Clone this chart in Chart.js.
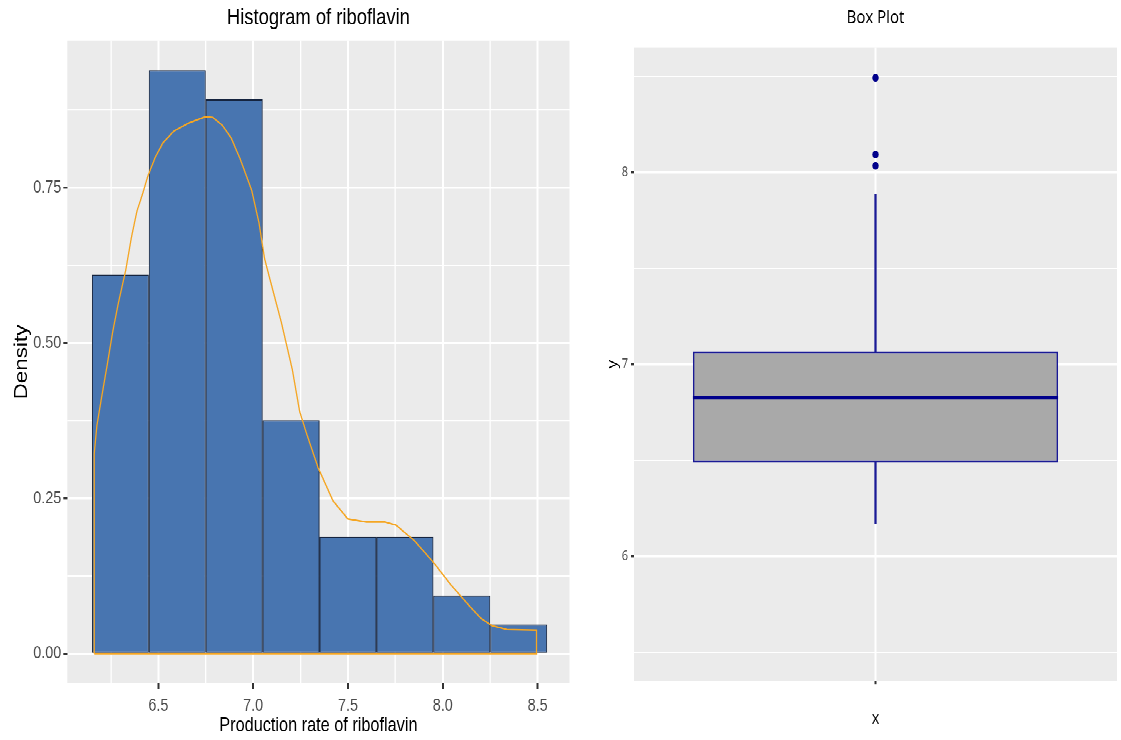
<!DOCTYPE html>
<html>
<head>
<meta charset="utf-8">
<script src="https://cdn.jsdelivr.net/npm/chart.js@4.4.1/dist/chart.umd.min.js"></script>
<style>
  body { margin: 0; background: #fff; width: 1121px; height: 740px; overflow: hidden; }
  /* the source picture is stretched vertically, so the whole drawing is too */
  #wrap { position: absolute; left: 0; top: 0; width: 1121px; height: 607px;
          transform: scale(1, 1.2191); transform-origin: 0 0; }
  #left { position: absolute; left: 0; top: 0; }
  #right { position: absolute; left: 580px; top: 0; }
</style>
</head>
<body>
<div id="wrap">
  <canvas id="left" width="580" height="607"></canvas>
  <canvas id="right" width="541" height="607"></canvas>
</div>
<script>
// Histogram data (bins of width 0.3, density scale)
const binWidth = 0.3;
const binCenters = [6.3, 6.6, 6.9, 7.2, 7.5, 7.8, 8.1, 8.4];
const binDensity = [0.610, 0.939, 0.892, 0.376, 0.188, 0.188, 0.094, 0.047];
const xStep = 0.25;   // grid step on the histogram's x axis (major every 0.5)
const yStep = 0.125;  // grid step on the histogram's y axis (major every 0.25)

// Kernel density outline (closed along the baseline like geom_density)
const densityX = [6.162, 6.162, 6.176, 6.201, 6.231, 6.260, 6.289, 6.328, 6.358, 6.387, 6.416, 6.445,
  6.484, 6.524, 6.582, 6.660, 6.748, 6.787, 6.836, 6.884, 6.933, 6.992, 7.031, 7.060, 7.089, 7.148,
  7.206, 7.245, 7.284, 7.343, 7.421, 7.499, 7.597, 7.694, 7.753, 7.850, 7.948, 8.045, 8.143, 8.201,
  8.260, 8.338, 8.494, 8.494, 6.162];
const densityY = [0, 0.322, 0.367, 0.413, 0.466, 0.519, 0.564, 0.617, 0.670, 0.712, 0.739, 0.769,
  0.799, 0.822, 0.841, 0.854, 0.864, 0.863, 0.851, 0.830, 0.795, 0.746, 0.693, 0.636, 0.602, 0.534,
  0.458, 0.390, 0.352, 0.299, 0.246, 0.217, 0.212, 0.212, 0.207, 0.182, 0.148, 0.110, 0.076, 0.057,
  0.045, 0.039, 0.038, 0, 0];

// Box plot summary
const boxGroup = 'x';
const whiskerLow = 6.17;
const q1 = 6.49;
const median = 6.826;
const q3 = 7.068;
const whiskerHigh = 7.884;
const outliers = [8.494, 8.094, 8.035];

const sans = "'Liberation Sans', Arial, sans-serif";
const plain = "'Open Sans', 'Liberation Sans', sans-serif";
const navy = '#00008B';
const boxLine = '#1A1A96';

const isMultiple = (v, step) => Math.abs(v / step - Math.round(v / step)) < 1e-6;
// major / minor test that survives contexts without a tick
const onStep = (c, step) => c.tick ? isMultiple(c.tick.value, step) : true;

// grey panel behind the plot area
const panelBg = {
  id: 'panelBg',
  beforeDraw(chart) {
    const { ctx, chartArea: a } = chart;
    ctx.save();
    ctx.fillStyle = '#EBEBEB';
    ctx.fillRect(a.left, a.top, a.width, a.height);
    ctx.restore();
  }
};

// ---------- Histogram ----------
new Chart(document.getElementById('left'), {
  type: 'bar',
  data: {
    datasets: [
      {
        type: 'line',
        data: densityX.map((x, i) => ({ x: x, y: densityY[i] })),
        borderColor: '#F5A623',
        borderWidth: 1.3,
        pointRadius: 0,
        tension: 0,
        fill: false,
        order: 0
      },
      {
        type: 'bar',
        data: binCenters.map((x, i) => ({ x: x, y: binDensity[i] })),
        backgroundColor: '#4875B0',
        borderColor: '#15243F',
        borderWidth: 1,
        borderSkipped: false,
        barPercentage: 1,
        // bar width follows the grid step, so widen it to a full bin
        categoryPercentage: binWidth / xStep,
        order: 1
      }
    ]
  },
  options: {
    responsive: false,
    animation: false,
    devicePixelRatio: 2,
    layout: { padding: { right: 10.5, top: 0, bottom: 0, left: 0 } },
    plugins: {
      legend: { display: false },
      tooltip: { enabled: false },
      title: {
        display: true,
        fullSize: false,
        text: 'Histogram of riboflavin',
        color: '#000',
        font: { family: sans, size: 18.4, weight: 'normal' },
        padding: { top: 4.1, bottom: 7.2 }
      }
    },
    scales: {
      x: {
        type: 'linear',
        min: 6.02,
        max: 8.668,
        offset: false,
        afterFit: s => { s.height = 46.5; },
        border: { display: false },
        grid: {
          offset: false,
          color: '#fff',
          lineWidth: c => onStep(c, 0.5) ? 2 : 1.3,
          tickColor: c => onStep(c, 0.5) ? '#333' : 'rgba(0,0,0,0)',
          tickLength: 5
        },
        ticks: {
          stepSize: xStep,
          includeBounds: false,
          autoSkip: false,
          maxRotation: 0,
          padding: 5,
          color: '#4D4D4D',
          font: { family: sans, size: 14.4 },
          callback: v => isMultiple(v, 0.5) ? v.toFixed(1) : ''
        },
        title: {
          display: true,
          text: 'Production rate of riboflavin',
          color: '#000',
          font: { family: sans, size: 16.3 },
          padding: { top: 0, bottom: 1.7 }
        }
      },
      y: {
        min: -0.0476,
        max: 0.9865,
        afterFit: s => { s.width = 67.3; },
        border: { display: false },
        grid: {
          color: '#fff',
          lineWidth: c => onStep(c, 0.25) ? 1.7 : 1.1,
          tickColor: c => onStep(c, 0.25) ? '#333' : 'rgba(0,0,0,0)',
          tickLength: 4
        },
        ticks: {
          stepSize: yStep,
          includeBounds: false,
          autoSkip: false,
          padding: 2,
          color: '#4D4D4D',
          font: { family: sans, size: 14.4 },
          callback: v => isMultiple(v, 0.25) ? v.toFixed(2) : ''
        },
        title: {
          display: true,
          text: 'Density',
          color: '#000',
          font: { family: sans, size: 18.4 },
          padding: { top: 11, bottom: 0 }
        }
      }
    }
  },
  plugins: [panelBg]
});

// ---------- Box plot ----------
const boxWidthFrac = 0.756;

new Chart(document.getElementById('right'), {
  type: 'bar',
  data: {
    labels: [boxGroup],
    datasets: [
      {
        type: 'line',
        data: [{ x: boxGroup, y: median }],
        showLine: false,
        pointStyle: 'line',
        pointRadius: c => c.chart.scales.x ? c.chart.scales.x.width * boxWidthFrac / 2 : 180,
        pointBorderWidth: 2.6,
        pointBorderColor: navy,
        order: 0
      },
      {
        type: 'line',
        data: outliers.map(v => ({ x: boxGroup, y: v })),
        showLine: false,
        pointRadius: 3.2,
        pointBackgroundColor: navy,
        pointBorderColor: navy,
        pointBorderWidth: 0,
        order: 0
      },
      {
        data: [[q1, q3]],
        backgroundColor: '#A9A9A9',
        borderColor: boxLine,
        borderWidth: 1.5,
        borderSkipped: false,
        grouped: false,
        barPercentage: 1,
        categoryPercentage: boxWidthFrac,
        order: 1
      },
      {
        data: [[q3, whiskerHigh]],
        backgroundColor: boxLine,
        barThickness: 1.6,
        grouped: false,
        order: 2
      },
      {
        data: [[whiskerLow, q1]],
        backgroundColor: boxLine,
        barThickness: 1.6,
        grouped: false,
        order: 2
      }
    ]
  },
  options: {
    responsive: false,
    animation: false,
    devicePixelRatio: 2,
    layout: { padding: { right: 3, top: 0, bottom: 0, left: 0 } },
    plugins: {
      legend: { display: false },
      tooltip: { enabled: false },
      title: {
        display: true,
        fullSize: false,
        text: 'Box Plot',
        color: '#000',
        font: { family: plain, size: 15, weight: 'normal' },
        padding: { top: 5.8, bottom: 15 }
      }
    },
    scales: {
      x: {
        type: 'category',
        offset: true,
        afterFit: s => { s.height = 48.4; },
        border: { display: false },
        grid: {
          offset: false,
          color: '#fff',
          lineWidth: 2,
          tickColor: '#333',
          tickLength: 2.5
        },
        ticks: { callback: () => '' },
        title: {
          display: true,
          text: 'x',
          color: '#000',
          font: { family: plain, size: 14 },
          padding: { top: 0, bottom: 9 }
        }
      },
      y: {
        min: 5.35,
        max: 8.653,
        afterFit: s => { s.width = 54; },
        border: { display: false },
        grid: {
          color: '#fff',
          lineWidth: c => onStep(c, 1) ? 1.7 : 1.3,
          tickColor: c => onStep(c, 1) ? '#333' : 'rgba(0,0,0,0)',
          tickLength: 3
        },
        ticks: {
          stepSize: 0.5,
          includeBounds: false,
          autoSkip: false,
          padding: 3,
          color: '#4D4D4D',
          font: { family: plain, size: 11 },
          callback: v => isMultiple(v, 1) ? String(v) : ''
        },
        title: {
          display: true,
          text: 'y',
          color: '#000',
          font: { family: plain, size: 14 },
          padding: { top: 24, bottom: 0 }
        }
      }
    }
  },
  plugins: [panelBg]
});
</script>
</body>
</html>
